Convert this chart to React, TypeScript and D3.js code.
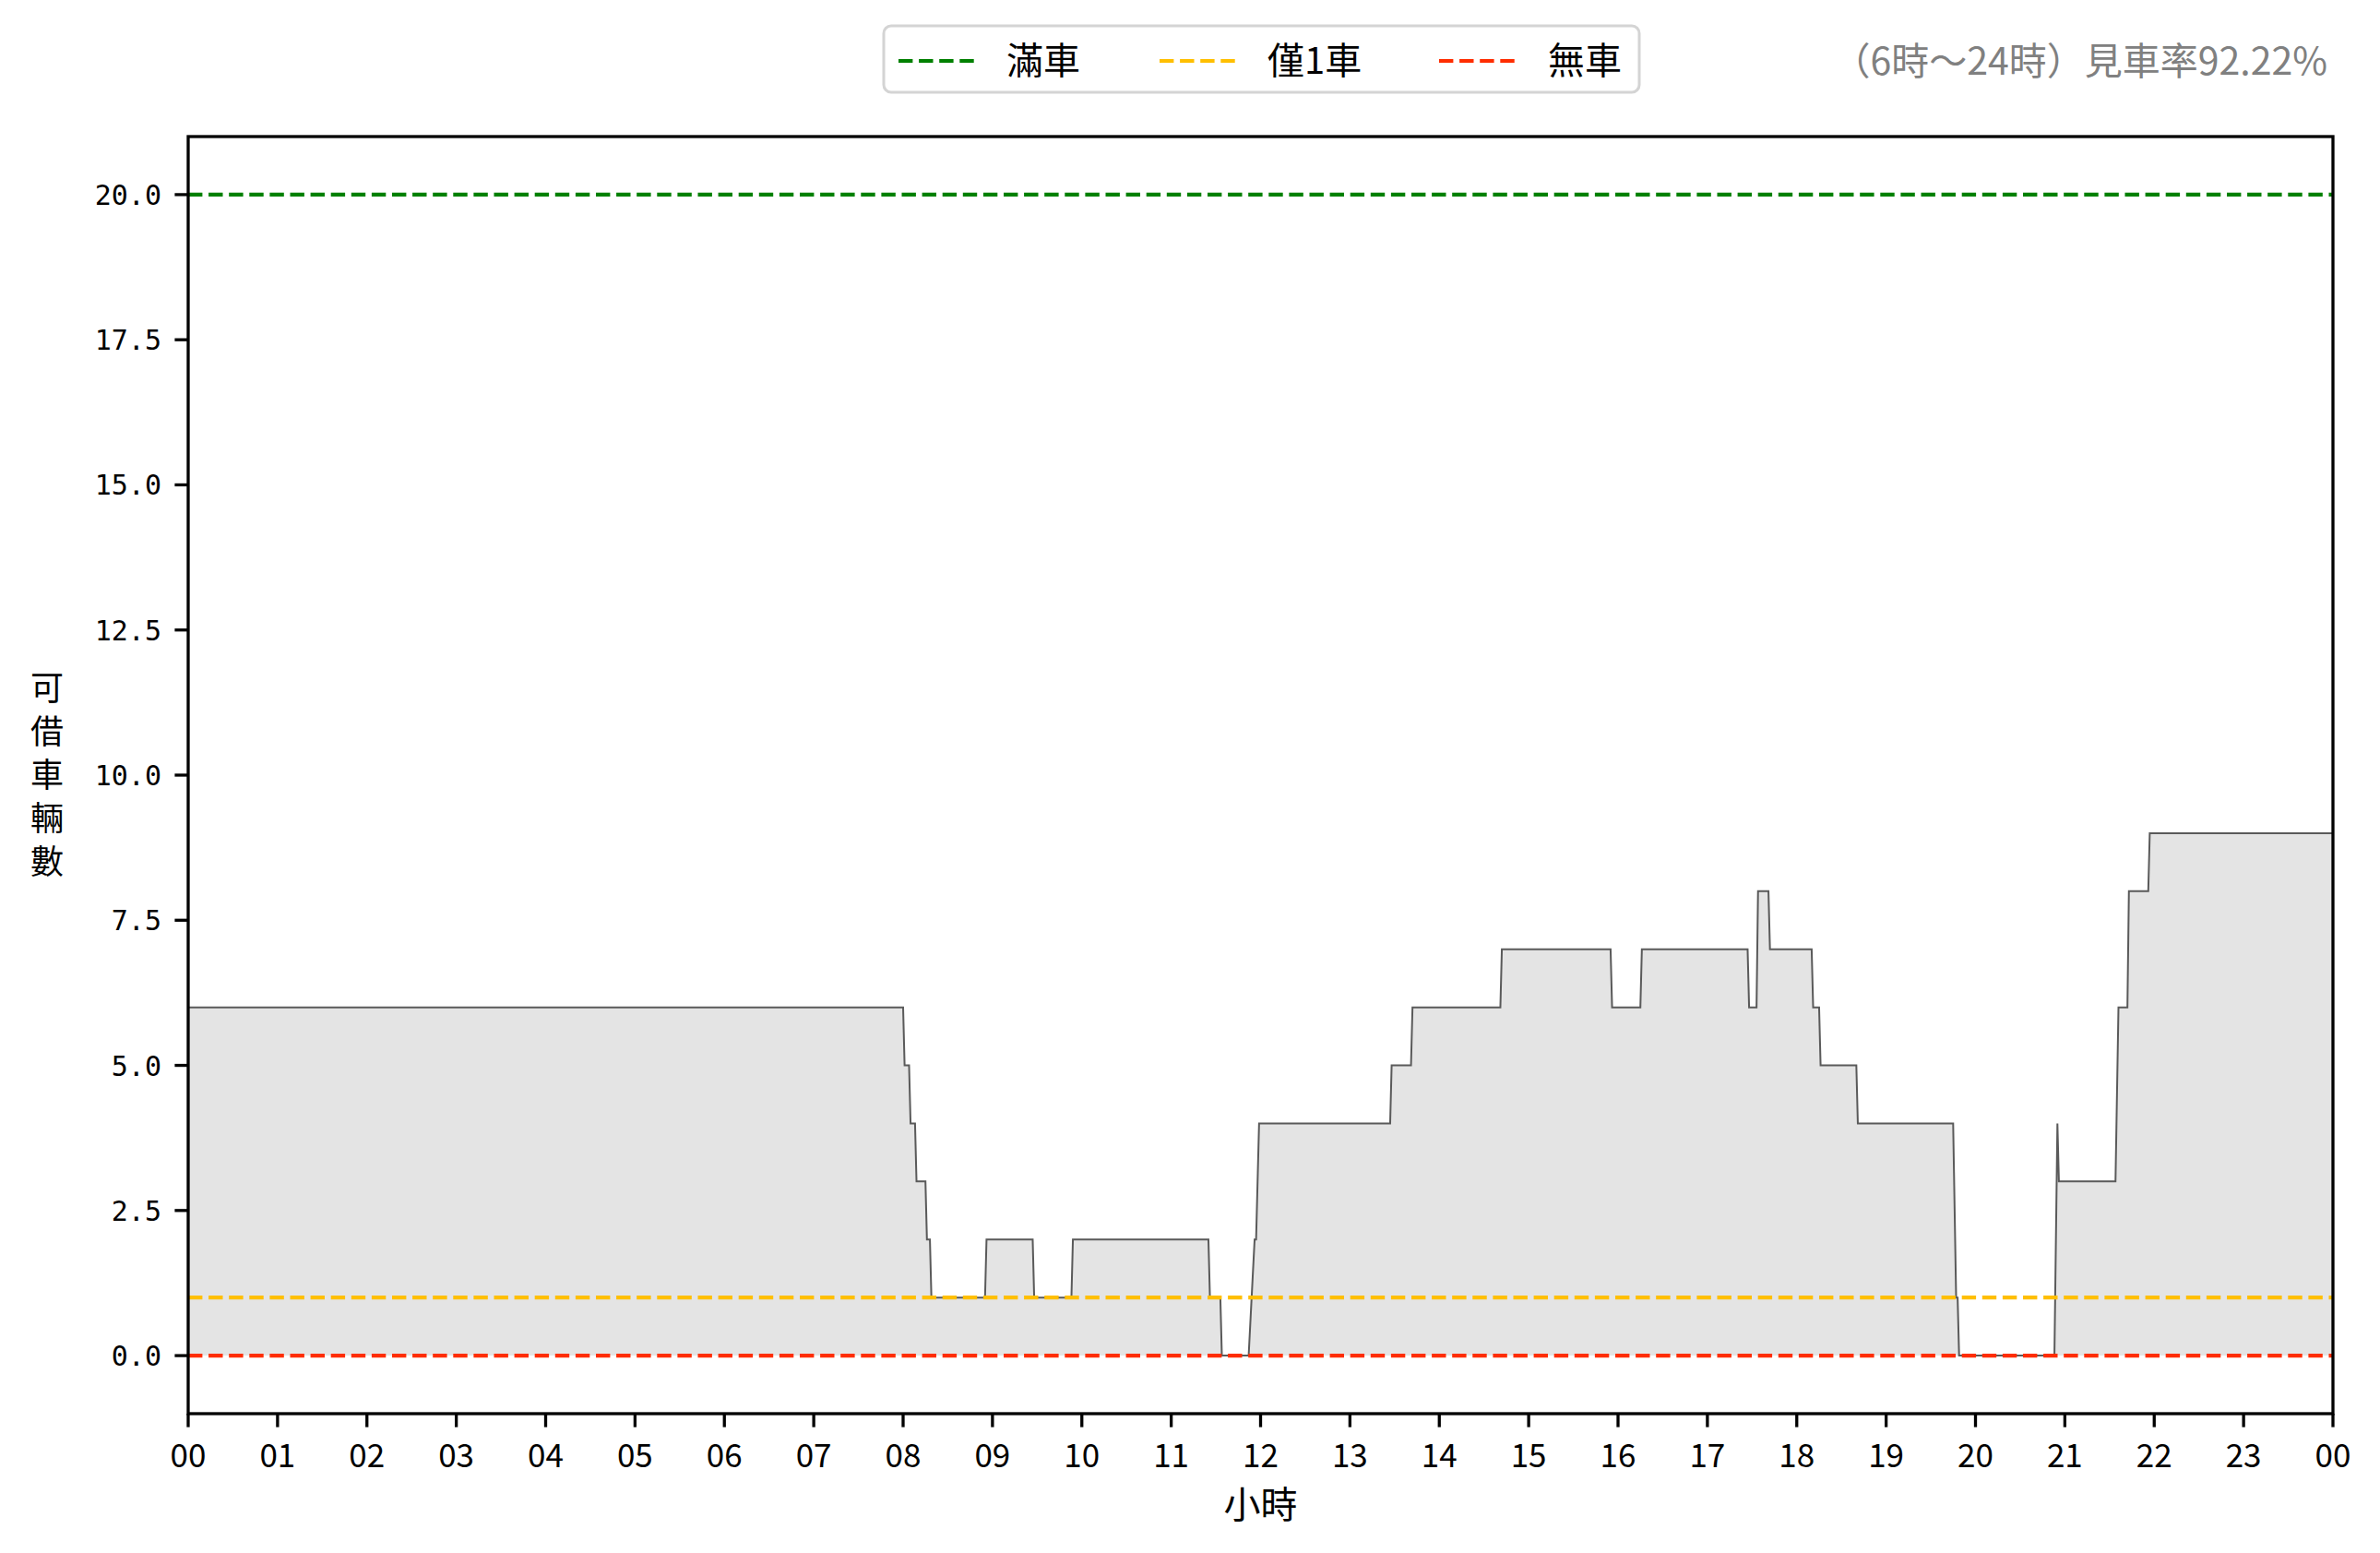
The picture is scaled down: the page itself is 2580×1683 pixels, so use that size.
import React from "react";
import * as d3 from "d3";

// Runs of available bikes: start minute, end minute, value
const segStart = [0, 481, 485, 489, 496, 499, 536, 568, 594, 686, 694, 716, 719, 808, 822, 882, 956, 976, 1048, 1054, 1062, 1091, 1096, 1121, 1187, 1189, 1255, 1256, 1296, 1303, 1317];
const segEnd = [480, 484, 488, 495, 498, 535, 567, 593, 685, 693, 712, 717, 807, 821, 881, 955, 975, 1047, 1053, 1061, 1090, 1095, 1120, 1185, 1188, 1253, 1255, 1294, 1302, 1316, 1440];
const segValue = [6, 5, 4, 3, 2, 1, 2, 1, 2, 1, 0, 2, 4, 5, 6, 7, 6, 7, 6, 8, 7, 6, 5, 4, 1, 0, 4, 3, 6, 8, 9];

const yTicks = [0, 2.5, 5, 7.5, 10, 12.5, 15, 17.5, 20];
const hourTicks = d3.range(0, 25);

const refLines = [
  { label: "滿車", value: 20, color: "#008000" },
  { label: "僅1車", value: 1, color: "#ffbf00" },
  { label: "無車", value: 0, color: "#ff2d00" },
];
const annotation = "（6時～24時）見車率92.22%";
const yLabel = "可借車輛數";
const xLabel = "小時";

const W = 2580, H = 1683;
const L = 204, R = 2529, T = 148, B = 1532;

export default function App() {
  const x = d3.scaleLinear().domain([0, 1440]).range([L, R]);
  const y = d3.scaleLinear().domain([-1, 21]).range([B, T]);

  const pts: [number, number][] = [];
  segStart.forEach((s, i) => {
    pts.push([s, segValue[i]]);
    if (segEnd[i] > s) pts.push([segEnd[i], segValue[i]]);
  });

  const line = d3.line<[number, number]>().x(d => x(d[0])).y(d => y(d[1]));
  const area = d3.area<[number, number]>().x(d => x(d[0])).y0(y(0)).y1(d => y(d[1]));

  const cjk = "'Noto Sans CJK TC', 'Noto Sans CJK SC', sans-serif";
  const dash = "15.4 6.7";

  const legendLineX = [974, 1257, 1560];
  const legendTextX = [1091, 1374, 1678];

  return (
    <svg width={W} height={H} style={{ position: "absolute", left: 0, top: 0, background: "#fff" }}>
      <rect x={0} y={0} width={W} height={H} fill="#fff" />
      <defs>
        <clipPath id="plotclip">
          <rect x={L} y={T} width={R - L} height={B - T} />
        </clipPath>
      </defs>
      <g clipPath="url(#plotclip)">
        <path d={area(pts) || ""} fill="#e4e4e4" />
        <path d={line(pts) || ""} fill="none" stroke="#5a5a5a" strokeWidth={2} />
        {refLines.map(r => (
          <line key={r.label} x1={L} x2={R} y1={y(r.value)} y2={y(r.value)} stroke={r.color} strokeWidth={4.2} strokeDasharray={dash} />
        ))}
      </g>
      {/* spines */}
      <rect x={L} y={T} width={R - L} height={B - T} fill="none" stroke="#000" strokeWidth={3.3} />
      {/* y ticks */}
      {yTicks.map(t => (
        <g key={t}>
          <line x1={L - 14.6} x2={L} y1={y(t)} y2={y(t)} stroke="#000" strokeWidth={3.3} />
          <text x={175} y={y(t) + 11} textAnchor="end" fontFamily="'DejaVu Sans Mono', monospace" fontSize={30} fill="#000">
            {d3.format(".1f")(t)}
          </text>
        </g>
      ))}
      {/* x ticks */}
      {hourTicks.map(h => (
        <g key={h}>
          <line x1={x(h * 60)} x2={x(h * 60)} y1={B} y2={B + 14.6} stroke="#000" strokeWidth={3.3} />
          <text x={x(h * 60)} y={1590} textAnchor="middle" fontFamily={cjk} fontSize={35} fill="#000">
            {d3.format("02d")(h % 24)}
          </text>
        </g>
      ))}
      {/* axis labels */}
      <text x={(L + R) / 2} y={1645} textAnchor="middle" fontFamily={cjk} fontSize={40} fill="#000">{xLabel}</text>
      {yLabel.split("").map((c, i) => (
        <text key={i} x={51} y={840 + (i - 2) * 47 + 13} textAnchor="middle" fontFamily={cjk} fontSize={36} fill="#000">{c}</text>
      ))}
      {/* legend */}
      <rect x={958} y={28} width={819} height={72} rx={8} ry={8} fill="#fff" stroke="#d4d4d4" strokeWidth={3} />
      {refLines.map((r, i) => (
        <g key={r.label}>
          <line x1={legendLineX[i]} x2={legendLineX[i] + 82} y1={66} y2={66} stroke={r.color} strokeWidth={4.2} strokeDasharray={dash} />
          <text x={legendTextX[i]} y={80} fontFamily={cjk} fontSize={40} fill="#000">{r.label}</text>
        </g>
      ))}
      {/* annotation */}
      <text x={2523} y={81} textAnchor="end" fontFamily={cjk} fontSize={41} fill="#808080">{annotation}</text>
    </svg>
  );
}
